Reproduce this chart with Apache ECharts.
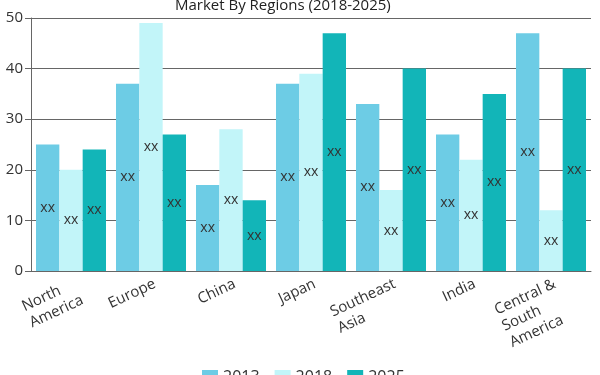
<!DOCTYPE html>
<html>
<head>
<meta charset="utf-8">
<script src="https://cdn.jsdelivr.net/npm/echarts@6/dist/echarts.min.js"></script>
<style>
  html, body { margin: 0; padding: 0; background: #fff; }
  #main { width: 600px; height: 375px; }
</style>
</head>
<body>
<div id="main"></div>
<script>
// 数据
var regions = ['North\nAmerica', 'Europe', 'China', 'Japan', 'Southeast\nAsia', 'India', 'Central &\nSouth\nAmerica'];
var years = ['2013', '2018', '2025'];
var values2013 = [25, 37, 17, 37, 33, 27, 47];
var values2018 = [20, 49, 28, 39, 16, 22, 12];
var values2025 = [24, 27, 14, 47, 40, 35, 40];
var yTicks = [0, 10, 20, 30, 40, 50];

(function () {
    var myChart = echarts.init(document.getElementById('main'));
    var font = '"Open Sans", "Noto Sans", sans-serif';
    var colors = ['#6dcce5', '#c2f5f9', '#12b5b8'];

    // 柱子里的 xx 标签
    var barLabel = {
        show: true,
        position: 'inside',
        formatter: 'xx',
        color: '#333',
        fontSize: 14,
        fontFamily: font
    };

    function makeSeries(name, data) {
        return {
            name: name,
            type: 'bar',
            data: data,
            barGap: 0,
            barCategoryGap: '12.5%',
            label: barLabel
        };
    }

    var option = {
        color: colors,
        textStyle: { fontFamily: font },
        title: {
            text: 'Market By Regions (2018-2025)',
            left: 170,
            top: -7,
            textStyle: { fontSize: 15, fontWeight: 'normal', color: '#222', fontFamily: font }
        },
        legend: {
            data: years,
            top: 364,
            left: 197,
            itemWidth: 16,
            itemHeight: 14,
            itemGap: 15,
            icon: 'rect',
            textStyle: { fontSize: 16, color: '#333', fontFamily: font }
        },
        grid: {
            left: 31,
            right: 9,
            top: 18,
            bottom: 104
        },
        xAxis: {
            type: 'category',
            data: regions,
            axisLine: { lineStyle: { color: '#666' } },
            axisTick: { alignWithLabel: true, length: 5, lineStyle: { color: '#666' } },
            axisLabel: {
                rotate: 25,
                interval: 0,
                margin: 4,
                align: 'right',
                verticalAlign: 'top',
                formatter: function (v) {
                    return v.split('\n').map(function (s) { return '{a|' + s + '}'; }).join('\n');
                },
                rich: {
                    a: { align: 'left', fontSize: 15, color: '#333', fontFamily: font, lineHeight: 18 }
                }
            }
        },
        yAxis: {
            type: 'value',
            min: yTicks[0],
            max: yTicks[yTicks.length - 1],
            interval: 10,
            axisLine: { show: true, lineStyle: { color: '#666' } },
            axisTick: { show: true, length: 6, lineStyle: { color: '#666' } },
            axisLabel: { fontSize: 15, color: '#333', margin: 8, fontFamily: font },
            splitLine: { lineStyle: { color: '#666' } }
        },
        series: [
            makeSeries(years[0], values2013),
            makeSeries(years[1], values2018),
            makeSeries(years[2], values2025)
        ]
    };

    myChart.setOption(option);
})();
</script>
</body>
</html>
